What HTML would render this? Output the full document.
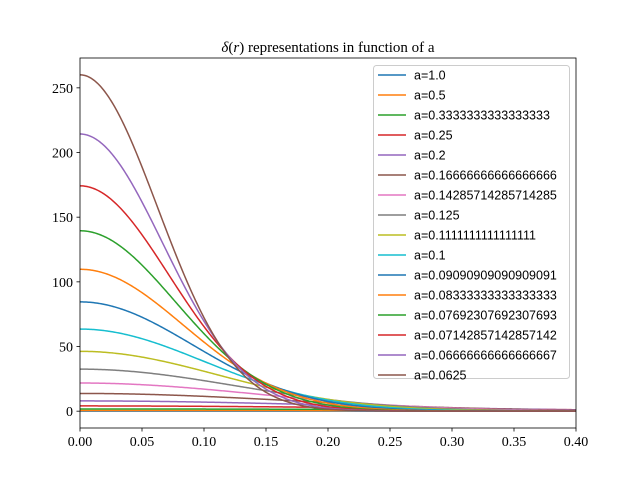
<!DOCTYPE html>
<html><head><meta charset="utf-8"><style>
body{margin:0;background:#fff}
svg{display:block}
.tk{font-family:"Liberation Serif",serif;font-size:14px;fill:#000}
.lg{font-family:"Liberation Sans",sans-serif;font-size:12.5px;fill:#000}
</style></head><body>
<svg id="c" width="640" height="480" viewBox="0 0 640 480">
<rect x="0" y="0" width="640" height="480" fill="#fff"/>
<text x="328" y="52" text-anchor="middle" class="tk" style="font-size:15px"><tspan font-style="italic">δ</tspan>(<tspan font-style="italic">r</tspan>) representations in function of a</text>
<g id="plot"></g>
<g id="axes"></g>
<g id="legend"></g>
</svg>
<script>
const aValues=[1.0,0.5,0.3333333333333333,0.25,0.2,0.16666666666666666,0.14285714285714285,0.125,0.1111111111111111,0.1,0.09090909090909091,0.08333333333333333,0.07692307692307693,0.07142857142857142,0.06666666666666667,0.0625];
const aLabels=["a=1.0","a=0.5","a=0.3333333333333333","a=0.25","a=0.2","a=0.16666666666666666","a=0.14285714285714285","a=0.125","a=0.1111111111111111","a=0.1","a=0.09090909090909091","a=0.08333333333333333","a=0.07692307692307693","a=0.07142857142857142","a=0.06666666666666667","a=0.0625"];
const xTicks=[0,0.05,0.1,0.15,0.2,0.25,0.3,0.35,0.4];
const xTickLabels=["0.00","0.05","0.10","0.15","0.20","0.25","0.30","0.35","0.40"];
const yTicks=[0,50,100,150,200,250];
const colors=["#1f77b4","#ff7f0e","#2ca02c","#d62728","#9467bd","#8c564b","#e377c2","#7f7f7f","#bcbd22","#17becf"];
const NS="http://www.w3.org/2000/svg";
const L=80,R=576,T=58,B=428;
const xMin=0,xMax=0.4;
function f(r,a){return Math.exp(-r*r/(2*a*a))/(Math.pow(2*Math.PI,1.5)*a*a*a);}
let peak=0;aValues.forEach(a=>{peak=Math.max(peak,f(0,a));});
const yMin=-0.05*peak,yMax=peak*1.05;
const X=v=>L+(v-xMin)/(xMax-xMin)*(R-L);
const Y=v=>B-(v-yMin)/(yMax-yMin)*(B-T);
function mk(tag,attrs,parent){const e=document.createElementNS(NS,tag);for(const k in attrs)e.setAttribute(k,attrs[k]);parent.appendChild(e);return e;}
const plot=document.getElementById('plot');
const clip=mk('clipPath',{id:'cp'},plot);mk('rect',{x:L,y:T,width:R-L,height:B-T},clip);
aValues.forEach((a,i)=>{
  let d="";
  for(let k=0;k<=400;k++){const r=xMin+(xMax-xMin)*k/400;d+=(k?"L":"M")+X(r).toFixed(2)+","+Y(f(r,a)).toFixed(2);}
  const p=mk('path',{d:d,fill:'none',stroke:colors[i%10],'stroke-width':1.5,'clip-path':'url(#cp)'},plot);
  
  
});
const ax=document.getElementById('axes');
xTicks.forEach((t,i)=>{
  const l=mk('line',{x1:X(t),x2:X(t),y1:B,y2:B+3.5,stroke:'#000','stroke-width':0.8},ax);
  
  
  const tx=mk('text',{x:X(t),y:B+18,'text-anchor':'middle',class:'tk'},ax);tx.textContent=xTickLabels[i];
  
  
});
yTicks.forEach(t=>{
  const l=mk('line',{x1:L-3.5,x2:L,y1:Y(t),y2:Y(t),stroke:'#000','stroke-width':0.8},ax);
  
  
  const tx=mk('text',{x:L-7,y:Y(t)+5,'text-anchor':'end',class:'tk'},ax);tx.textContent=String(t);
  
  
});
const fr=mk('rect',{x:L,y:T,width:R-L,height:B-T,fill:'none',stroke:'#000','stroke-width':0.8},ax);


const lg=document.getElementById('legend');
const box=mk('rect',{x:373.5,y:65.5,width:196,height:313,rx:3,fill:'#fff','fill-opacity':0.8,stroke:'#ccc','stroke-width':1},lg);


aLabels.forEach((s,i)=>{
  const y=75+i*20;
  const g=mk('g',{},lg);
  
  
  mk('line',{x1:378,x2:406,y1:y,y2:y,stroke:colors[i%10],'stroke-width':1.5},g);
  const t=mk('text',{x:414,y:y+4.5,class:'lg'},g);t.textContent=s;
});
</script>
</body></html>
